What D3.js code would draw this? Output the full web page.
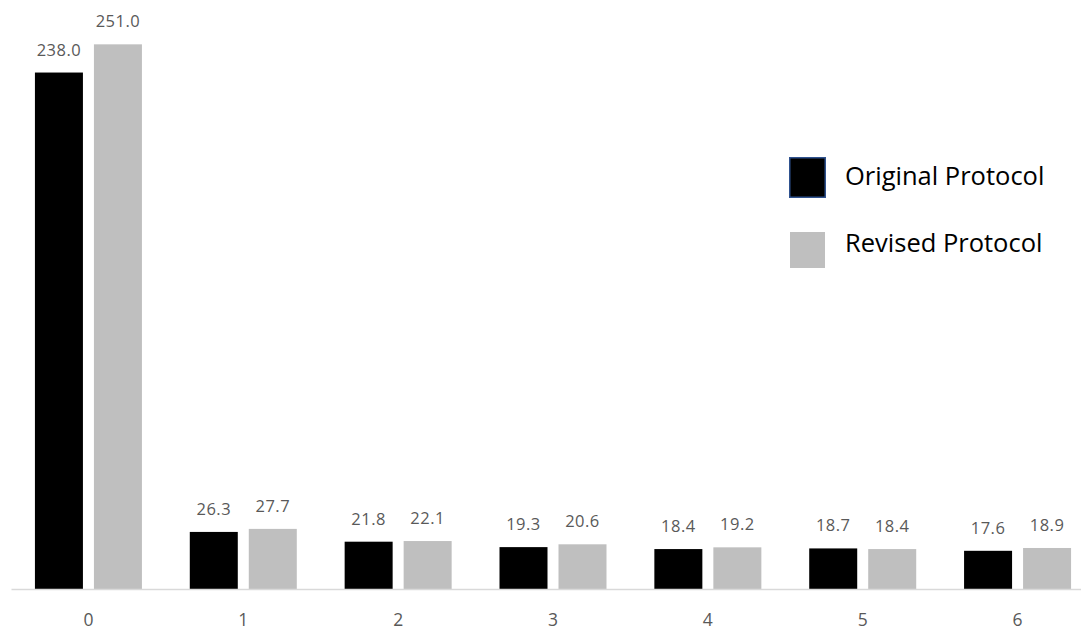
<!DOCTYPE html>
<html>
<head>
<meta charset="utf-8">
<script src="https://cdn.jsdelivr.net/npm/d3@7"></script>
<style>
  html, body { margin: 0; padding: 0; background: #ffffff; }
  svg { display: block; font-family: "Open Sans", sans-serif; }
</style>
</head>
<body>
<svg id="chart" width="1081" height="631"></svg>
<script>
// Categories and the two protocol series
const categories = ["0", "1", "2", "3", "4", "5", "6"];
const seriesNames = ["Original Protocol", "Revised Protocol"];
const originalValues = [238.0, 26.3, 21.8, 19.3, 18.4, 18.7, 17.6];
const revisedValues = [251.0, 27.7, 22.1, 20.6, 19.2, 18.4, 18.9];
const seriesColors = ["#000000", "#bfbfbf"];

const rows = categories.map((c, i) => ({
  category: c,
  values: [
    { series: seriesNames[0], value: originalValues[i] },
    { series: seriesNames[1], value: revisedValues[i] }
  ]
}));

const svg = d3.select("#chart");
const baseY = 589;

const x = d3.scaleBand()
  .domain(categories)
  .range([11, 1095])
  .paddingInner(0)
  .paddingOuter(0);

const xSub = d3.scaleBand()
  .domain(seriesNames)
  .range([(x.bandwidth() - 107) / 2, (x.bandwidth() + 107) / 2])
  .paddingInner(11 / 59)
  .paddingOuter(0);

const y = d3.scaleLinear()
  .domain([0, 260])
  .range([baseY, 24.8]);

const color = d3.scaleOrdinal().domain(seriesNames).range(seriesColors);

// Bars
const groups = svg.append("g")
  .selectAll("g")
  .data(rows)
  .join("g")
  .attr("transform", d => `translate(${x(d.category)},0)`);

groups.selectAll("rect")
  .data(d => d.values)
  .join("rect")
  .attr("x", d => xSub(d.series))
  .attr("y", d => y(d.value))
  .attr("width", xSub.bandwidth())
  .attr("height", d => y(0) - y(d.value))
  .attr("fill", d => color(d.series));

// Value labels above each bar
groups.selectAll("text")
  .data(d => d.values)
  .join("text")
  .attr("x", d => xSub(d.series) + xSub.bandwidth() / 2)
  .attr("y", d => y(d.value) - 17)
  .attr("text-anchor", "middle")
  .attr("font-size", 16.5)
  .attr("letter-spacing", 0.5)
  .attr("fill", "#595959")
  .text(d => d.value.toFixed(1));

// Category axis
const axis = svg.append("g")
  .attr("transform", `translate(0,${baseY})`)
  .call(d3.axisBottom(x).tickSize(0).tickSizeOuter(0).tickPadding(0));
axis.select(".domain").attr("stroke", "#d9d9d9").attr("stroke-width", 1.5);
axis.selectAll(".tick text")
  .attr("y", 37)
  .attr("dy", null)
  .attr("font-family", "Open Sans, sans-serif")
  .attr("font-size", 17.5)
  .attr("fill", "#595959");

// Legend
const legend = svg.append("g").attr("transform", "translate(789,157)");
const legendItems = legend.selectAll("g")
  .data(seriesNames)
  .join("g")
  .attr("transform", (d, i) => `translate(0,${i * 75})`);

legendItems.append("rect")
  .attr("x", (d, i) => i === 0 ? 0.75 : 1)
  .attr("y", (d, i) => i === 0 ? 0.75 : 0)
  .attr("width", (d, i) => i === 0 ? 35.5 : 35)
  .attr("height", (d, i) => i === 0 ? 39.5 : 36)
  .attr("fill", d => color(d))
  .attr("stroke", (d, i) => i === 0 ? "#2f528f" : "none")
  .attr("stroke-width", 1.5);

legendItems.append("text")
  .attr("x", 56)
  .attr("y", (d, i) => i === 0 ? 28 : 20)
  .attr("font-size", 25.5)
  .attr("fill", "#000000")
  .text(d => d);
</script>
</body>
</html>
